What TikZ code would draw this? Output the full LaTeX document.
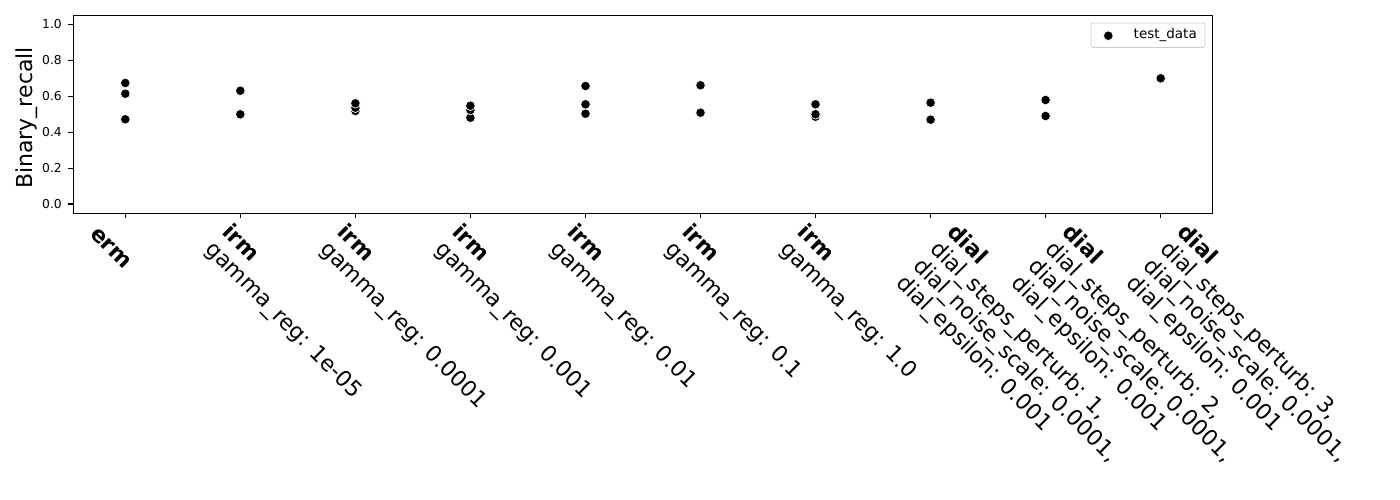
\documentclass[tikz,border=0pt]{standalone}
\usepackage{fontspec}
\setmainfont{DejaVu Sans}
\begin{document}
\begin{tikzpicture}[x=1pt,y=-1pt,
  pt/.style={circle,fill=black,draw=white,line width=0.7pt,inner sep=0pt,minimum size=9.6pt},
  lab/.style={anchor=base west,rotate=-45,inner sep=0pt,font=\fontsize{22}{24}\selectfont},
  labb/.style={lab,font=\fontsize{22}{24}\selectfont\bfseries},
  ytl/.style={anchor=east,inner sep=0pt,font=\fontsize{12.3}{14}\selectfont},
  tk/.style={line width=1.1pt},
  frame/.style={line width=1.1pt}]
\useasboundingbox (0,0) rectangle (1400,500);
% axes frame
\draw[frame] (73.3,15.3) rectangle (1212.3,213.3);
% y ticks
\foreach \v/\yy [count=\k] in {0.0/204,0.2/168.1,0.4/132.1,0.6/96.2,0.8/60.2,1.0/24.3} {
  \draw[tk] (68.4,\yy) -- (73.3,\yy);
  \node[ytl] (yt\k) at (62,\yy) {\v};
}
\node[rotate=90,anchor=base,inner sep=0pt,font=\fontsize{22}{24}\selectfont] (ylab) at (32.3,118) {Binary\_recall};
% x ticks
\foreach \i in {0,...,9} {
  \pgfmathsetmacro{\tx}{125.3+115.04*\i}
  \draw[tk] (\tx,213.3) -- (\tx,218.2);
}
% x labels
\node[labb] (ermA) at (125.3-36,235) {erm};
\foreach \v [count=\i] in {1e-05,0.0001,0.001,0.01,0.1,1.0} {
  \pgfmathsetmacro{\tx}{125.3+115.04*\i}
  \node[labb] (irmA\i) at (\tx-19,233) {irm};
  \node[lab] (irmB\i) at (\tx-36,250) {gamma\_reg: \v};
}
\foreach \s [count=\j] in {1,2,3} {
  \pgfmathsetmacro{\tx}{125.3+115.04*(\j+6)}
  \node[labb] (dA\j) at (\tx+16,233) {dial};
  \node[lab] (dB\j) at (\tx-1,250) {dial\_steps\_perturb: \s,};
  \node[lab] (dC\j) at (\tx-18,267) {dial\_noise\_scale: 0.0001,};
  \node[lab] (dD\j) at (\tx-35,284) {dial\_epsilon: 0.001};
}
% data points (drawn from low to high)
\node[pt] (p0c) at (125.3,119.3) {};
\node[pt] (p0b) at (125.3,93.7) {};
\node[pt] (p0a) at (125.3,83) {};
\node[pt] (p1b) at (240.3,114.3) {};
\node[pt] (p1a) at (240.3,90.7) {};
\node[pt] (p2c) at (355.4,111) {};
\node[pt] (p2b) at (355.4,107.7) {};
\node[pt] (p2a) at (355.4,103.3) {};
\node[pt] (p3c) at (470.4,117.7) {};
\node[pt] (p3b) at (470.4,110) {};
\node[pt] (p3a) at (470.4,105.7) {};
\node[pt] (p4c) at (585.5,113.7) {};
\node[pt] (p4b) at (585.5,104.3) {};
\node[pt] (p4a) at (585.5,86) {};
\node[pt] (p5b) at (700.5,112.7) {};
\node[pt] (p5a) at (700.5,85.3) {};
\node[pt] (p6c) at (815.5,116.7) {};
\node[pt] (p6b) at (815.5,114.3) {};
\node[pt] (p6a) at (815.5,104.3) {};
\node[pt] (p7b) at (930.6,119.7) {};
\node[pt] (p7a) at (930.6,102.7) {};
\node[pt] (p8b) at (1045.6,116) {};
\node[pt] (p8a) at (1045.6,100) {};
\node[pt] (p9a) at (1160.7,78.3) {};
% legend
\node[draw=black!20,line width=0.8pt,rounded corners=2.5pt,fill=white,inner sep=0pt,minimum width=114pt,minimum height=24.5pt] (leg) at (1148,35.2) {};
\node[pt] (legm) at (1108.3,35.7) {};
\node[anchor=west,inner sep=0pt,font=\fontsize{13.5}{15}\selectfont] (legt) at (1133.5,34.6) {test\_data};
\end{tikzpicture}
\end{document}
